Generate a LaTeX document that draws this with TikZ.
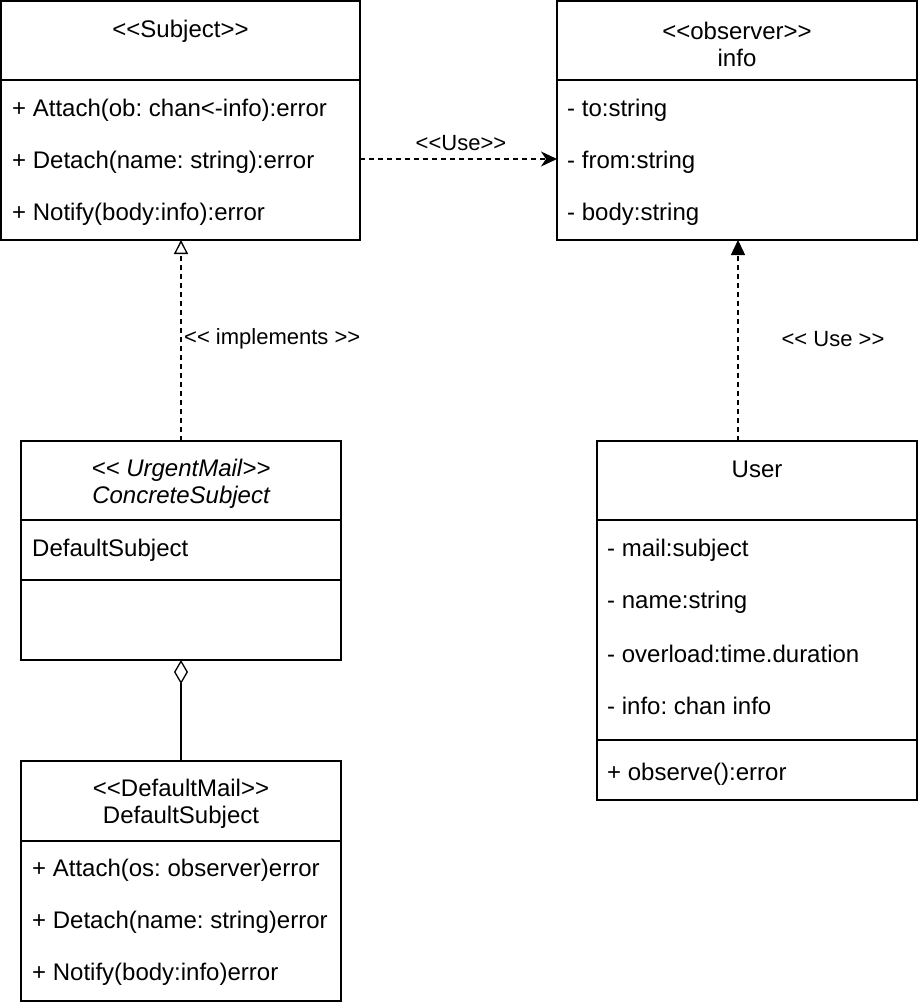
\documentclass[tikz,border=0pt]{standalone}
\usepackage{fontspec}
\setmainfont{Liberation Sans}
\usetikzlibrary{arrows.meta,shapes.geometric}
\frenchspacing
\begin{document}
\frenchspacing
\begin{tikzpicture}[x=1pt,y=-1pt,
  box/.style={draw, line width=1.5pt, inner sep=0pt, outer sep=0pt, anchor=north west},
  txt/.style={font=\fontsize{24}{28}\selectfont, inner sep=0pt, anchor=west, yshift=-2pt},
  ctxt/.style={font=\fontsize{24}{27}\selectfont, inner sep=0pt, align=center, yshift=-2pt},
  lbl/.style={font=\fontsize{22}{26}\selectfont, inner sep=0pt, yshift=-2pt},
  conn/.style={line width=1.5pt, dash pattern=on 5pt off 4pt}
]
\useasboundingbox (0,0) rectangle (918,1004);

% Subject
\node[box, minimum width=359pt, minimum height=239pt] (subj) at (1,1) {};
\draw[line width=1.5pt] (1,80) -- (360,80);
\node[ctxt] (subjT) at (180.5,29) {<{}<Subject>{}>};
\node[txt] (s1) at (12,108) {+ Attach(ob: chan<-info):error};
\node[txt] (s2) at (12,160) {+ Detach(name: string):error};
\node[txt] (s3) at (12,212) {+ Notify(body:info):error};

% info
\node[box, minimum width=360pt, minimum height=239pt] (info) at (557,1) {};
\draw[line width=1.5pt] (557,80) -- (917,80);
\node[ctxt] (infoT) at (737,42) {<{}<observer>{}>\\info};
\node[txt] (i1) at (567,108) {- to:string};
\node[txt] (i2) at (567,160) {- from:string};
\node[txt] (i3) at (567,212) {- body:string};

% ConcreteSubject
\node[box, minimum width=320pt, minimum height=219pt] (conc) at (21,441) {};
\draw[line width=1.5pt] (21,520) -- (341,520);
\draw[line width=1.5pt] (21,580) -- (341,580);
\node[ctxt, font=\fontsize{24}{27}\selectfont\itshape] (concT) at (181,482) {<{}< UrgentMail>{}>\\ConcreteSubject};
\node[txt] (c1) at (32,548) {DefaultSubject};

% DefaultSubject
\node[box, minimum width=320pt, minimum height=240pt] (defs) at (21,761) {};
\draw[line width=1.5pt] (21,841) -- (341,841);
\node[ctxt] (defT) at (181,802) {<{}<DefaultMail>{}>\\DefaultSubject};
\node[txt] (d1) at (32,868) {+ Attach(os: observer)error};
\node[txt] (d2) at (32,920) {+ Detach(name: string)error};
\node[txt] (d3) at (32,972) {+ Notify(body:info)error};

% User
\node[box, minimum width=320pt, minimum height=359pt] (user) at (597,441) {};
\draw[line width=1.5pt] (597,520) -- (917,520);
\draw[line width=1.5pt] (597,740) -- (917,740);
\node[ctxt] (userT) at (757,467) {User};
\node[txt] (u1) at (607,548) {- mail:subject};
\node[txt] (u2) at (607,600) {- name:string};
\node[txt] (u3) at (607,652) {- overload:time.duration};
\node[txt] (u4) at (607,704) {- info: chan info};
\node[txt] (u5) at (607,772) {+ observe():error};

% connectors
\coordinate (useA) at (360,159);
\coordinate (useB) at (557,159);
\draw[conn, -{Stealth[length=16pt,width=15pt,inset=5pt]}] (subj.east |- useA) -- (info.west |- useB);
\node[lbl] (useL) at (461,141) {<{}<Use>{}>};

\coordinate (implA) at (181,440);
\draw[conn, -{Triangle[open,length=14pt,width=14pt,line width=1.3pt]}] (conc.north -| implA) -- (subj.south -| implA);
\node[lbl, anchor=west] (implL) at (184,337) {<{}< implements >{}>};

\coordinate (aggA) at (181,700);
\draw[line width=1.5pt, -{Diamond[open,length=24pt,width=14pt,line width=1.3pt]}] (defs.north -| aggA) -- (conc.south -| aggA);

\coordinate (use2A) at (738,440);
\draw[conn, -{Triangle[length=15pt,width=14pt]}] (user.north -| use2A) -- (info.south -| use2A);
\node[lbl] (use2L) at (833,337) {<{}< Use >{}>};
\end{tikzpicture}
\end{document}
